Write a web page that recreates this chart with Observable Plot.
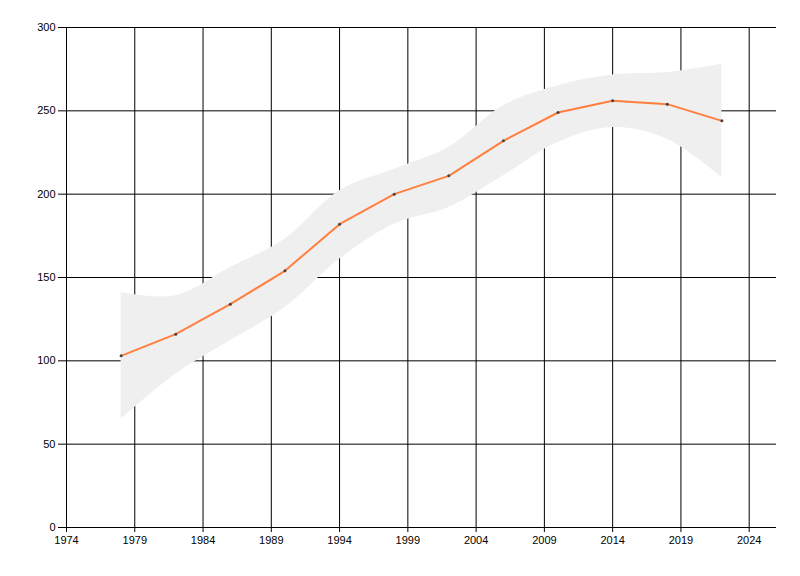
<!DOCTYPE html>
<html>
<head>
<meta charset="utf-8">
<script src="https://cdn.jsdelivr.net/npm/d3@7"></script>
<script src="https://cdn.jsdelivr.net/npm/@observablehq/plot@0.6"></script>
<style>
  html, body { margin: 0; padding: 0; background: #fff; }
  #chart svg { display: block; }
</style>
</head>
<body>
<div id="chart"></div>
<script>
const years = [1978, 1982, 1986, 1990, 1994, 1998, 2002, 2006, 2010, 2014, 2018, 2022];
const values = [103, 116, 134, 154, 182, 200, 211, 232, 249, 256, 254, 244];
const upper = [141, 139, 156, 173, 202, 215, 228, 253, 265, 271.5, 273, 278];
const lower = [65, 92, 112, 132, 161, 182, 192, 211, 231, 240, 233, 210];
const xTicks = [1974, 1979, 1984, 1989, 1994, 1999, 2004, 2009, 2014, 2019, 2024];
const yTicks = [0, 50, 100, 150, 200, 250, 300];

const data = years.map((year, i) => ({year, value: values[i], hi: upper[i], lo: lower[i]}));

const chart = Plot.plot({
  width: 800,
  height: 576,
  marginLeft: 66,
  marginRight: 24,
  marginTop: 27,
  marginBottom: 49,
  style: {fontFamily: "'Liberation Sans', Arial, sans-serif", fontSize: "11px", color: "#000", background: "#fff"},
  x: {domain: [1974, 2026], ticks: xTicks, tickFormat: "d", tickSize: 5, label: null},
  y: {domain: [0, 300], ticks: yTicks, tickSize: 8, label: null},
  marks: [
    Plot.ruleX(xTicks, {y1: 0, y2: 300, stroke: "#000", strokeWidth: 1}),
    Plot.ruleY(yTicks, {x1: 1974, x2: 2026, stroke: "#000", strokeWidth: 1}),
    Plot.areaY(data, {x: "year", y1: "lo", y2: "hi", fill: "#efefef", curve: "catmull-rom"}),
    Plot.line(data, {x: "year", y: "value", stroke: "#ff7f3e", strokeWidth: 2}),
    Plot.dot(data, {x: "year", y: "value", r: 1.5, fill: "#444", stroke: "none"}),
    Plot.axisX({ticks: xTicks, tickFormat: "d", tickSize: 5, tickPadding: 4, fontSize: 11}),
    Plot.axisY({ticks: yTicks, tickSize: 8, tickPadding: 3, fontSize: 11})
  ]
});
document.getElementById("chart").appendChild(chart);
</script>
</body>
</html>
